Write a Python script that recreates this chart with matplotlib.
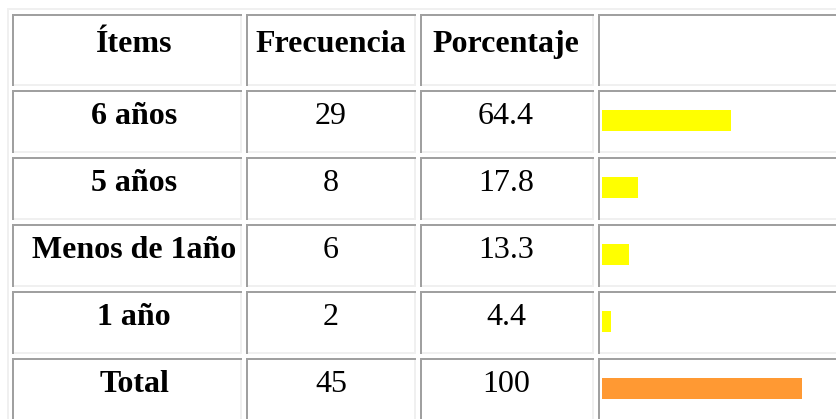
import numpy as np
import matplotlib
matplotlib.use("Agg")
import matplotlib.pyplot as plt
from matplotlib.patches import Rectangle

# Table data
headers = ["Ítems", "Frecuencia", "Porcentaje", ""]
items = ["6 años", "5 años", "Menos de 1año", "1 año", "Total"]
frecuencia = [29, 8, 6, 2, 45]
porcentaje = [64.4, 17.8, 13.3, 4.4, 100]
bar_colors = ["#ffff00", "#ffff00", "#ffff00", "#ffff00", "#ff9933"]

W, H = 836, 419
DARK = "#a0a0a0"
LIGHT = "#f0f0f0"

fig = plt.figure(figsize=(W / 100, H / 100), dpi=100)
ax = fig.add_axes([0, 0, 1, 1])
ax.set_xlim(0, W)
ax.set_ylim(H, 0)
ax.axis("off")

# cell geometry in pixels (outer edges)
col_x = [(12, 242), (246, 416), (420, 594), (598, 850)]
row_y = [(14, 86)] + [(90 + 67 * i, 153 + 67 * i) for i in range(5)]
text_x = [134, 331, 506]
bw = 2  # border width


def cell(x0, x1, y0, y1):
    # inset border: dark top/left, light bottom/right
    ax.add_patch(Rectangle((x0, y0), x1 - x0, bw, color=DARK, lw=0))
    ax.add_patch(Rectangle((x0, y0), bw, y1 - y0, color=DARK, lw=0))
    ax.add_patch(Rectangle((x0 + bw, y1 - bw), x1 - x0 - bw, bw, color=LIGHT, lw=0))
    ax.add_patch(Rectangle((x1 - bw, y0 + bw), bw, y1 - y0 - bw, color=LIGHT, lw=0))


# outer table border (outset, light on top/left)
ax.add_patch(Rectangle((7, 8), W, 2, color=LIGHT, lw=0))
ax.add_patch(Rectangle((7, 8), 2, H, color=LIGHT, lw=0))

for (y0, y1) in row_y:
    for (x0, x1) in col_x:
        cell(x0, x1, y0, y1)

font = dict(family=["Liberation Serif", "DejaVu Serif"], fontsize=23.04)

# header row
for j, h in enumerate(headers[:3]):
    ax.text(text_x[j], row_y[0][0] + 38, h, ha="center", va="baseline",
            fontweight="bold", **font)

# body rows
for i in range(len(items)):
    y0 = row_y[i + 1][0]
    ax.text(text_x[0], y0 + 34, items[i], ha="center", va="baseline",
            fontweight="bold", **font)
    ax.text(text_x[1], y0 + 34, str(frecuencia[i]), ha="center",
            va="baseline", **font)
    ax.text(text_x[2], y0 + 34, "{0:g}".format(porcentaje[i]), ha="center",
            va="baseline", **font)

# bars: 2 px per percent
bar_y = [r[0] + 30.5 for r in row_y[1:]]
ax.barh(bar_y, 2 * np.array(porcentaje), height=21, left=602,
        color=bar_colors, lw=0)

fig.savefig("out.png", dpi=100)
